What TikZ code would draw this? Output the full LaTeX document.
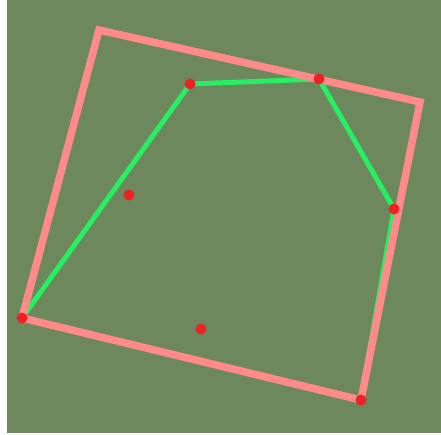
\documentclass[tikz,border=0pt]{standalone}
\usetikzlibrary{positioning, backgrounds}

\definecolor{fieldgreen}{RGB}{108,136,92}
\definecolor{boxpink}{RGB}{255,138,138}
\definecolor{hullgreen}{RGB}{40,238,100}
\definecolor{ptred}{RGB}{238,34,34}

\begin{document}
\begin{tikzpicture}[
  x=1pt, y=-1pt,
  pt/.style={circle, fill=ptred, minimum size=11pt, inner sep=0pt},
  hull/.style={hullgreen, line width=5pt, line cap=round, line join=round},
  box/.style={boxpink, line width=7.5pt, line join=miter}
]
  % Canvas with white margin
  \useasboundingbox (0,0) rectangle (441,435);

  % ===========================================================
  % Points
  % ===========================================================
  \node[pt] (p1) at ( 22,318) {};
  \node[pt] (p2) at (190, 84) {};
  \node[pt] (p3) at (319, 79) {};
  \node[pt] (p4) at (394,209) {};
  \node[pt] (p5) at (361,400) {};
  \node[pt] (p6) at (129,195) {};
  \node[pt] (p7) at (201,329) {};

  % Free corners of the bounding rectangle
  \coordinate (c1) at ( 99, 30);
  \coordinate (c2) at (420,102);

  % ===========================================================
  % Hull (green), then rectangle (pink), behind the points
  % ===========================================================
  \begin{scope}[on background layer]
    \fill[white] (0,0) rectangle (441,435);
    \fill[fieldgreen] (7,0) rectangle (441,433);

    \draw[hull] (p1.center) -- (p2.center) -- (p3.center)
      -- (p4.center) -- (p5.center);

    \draw[box] (p1.center) -- (c1) -- (c2) -- (p5.center) -- cycle;
  \end{scope}

\end{tikzpicture}
\end{document}
